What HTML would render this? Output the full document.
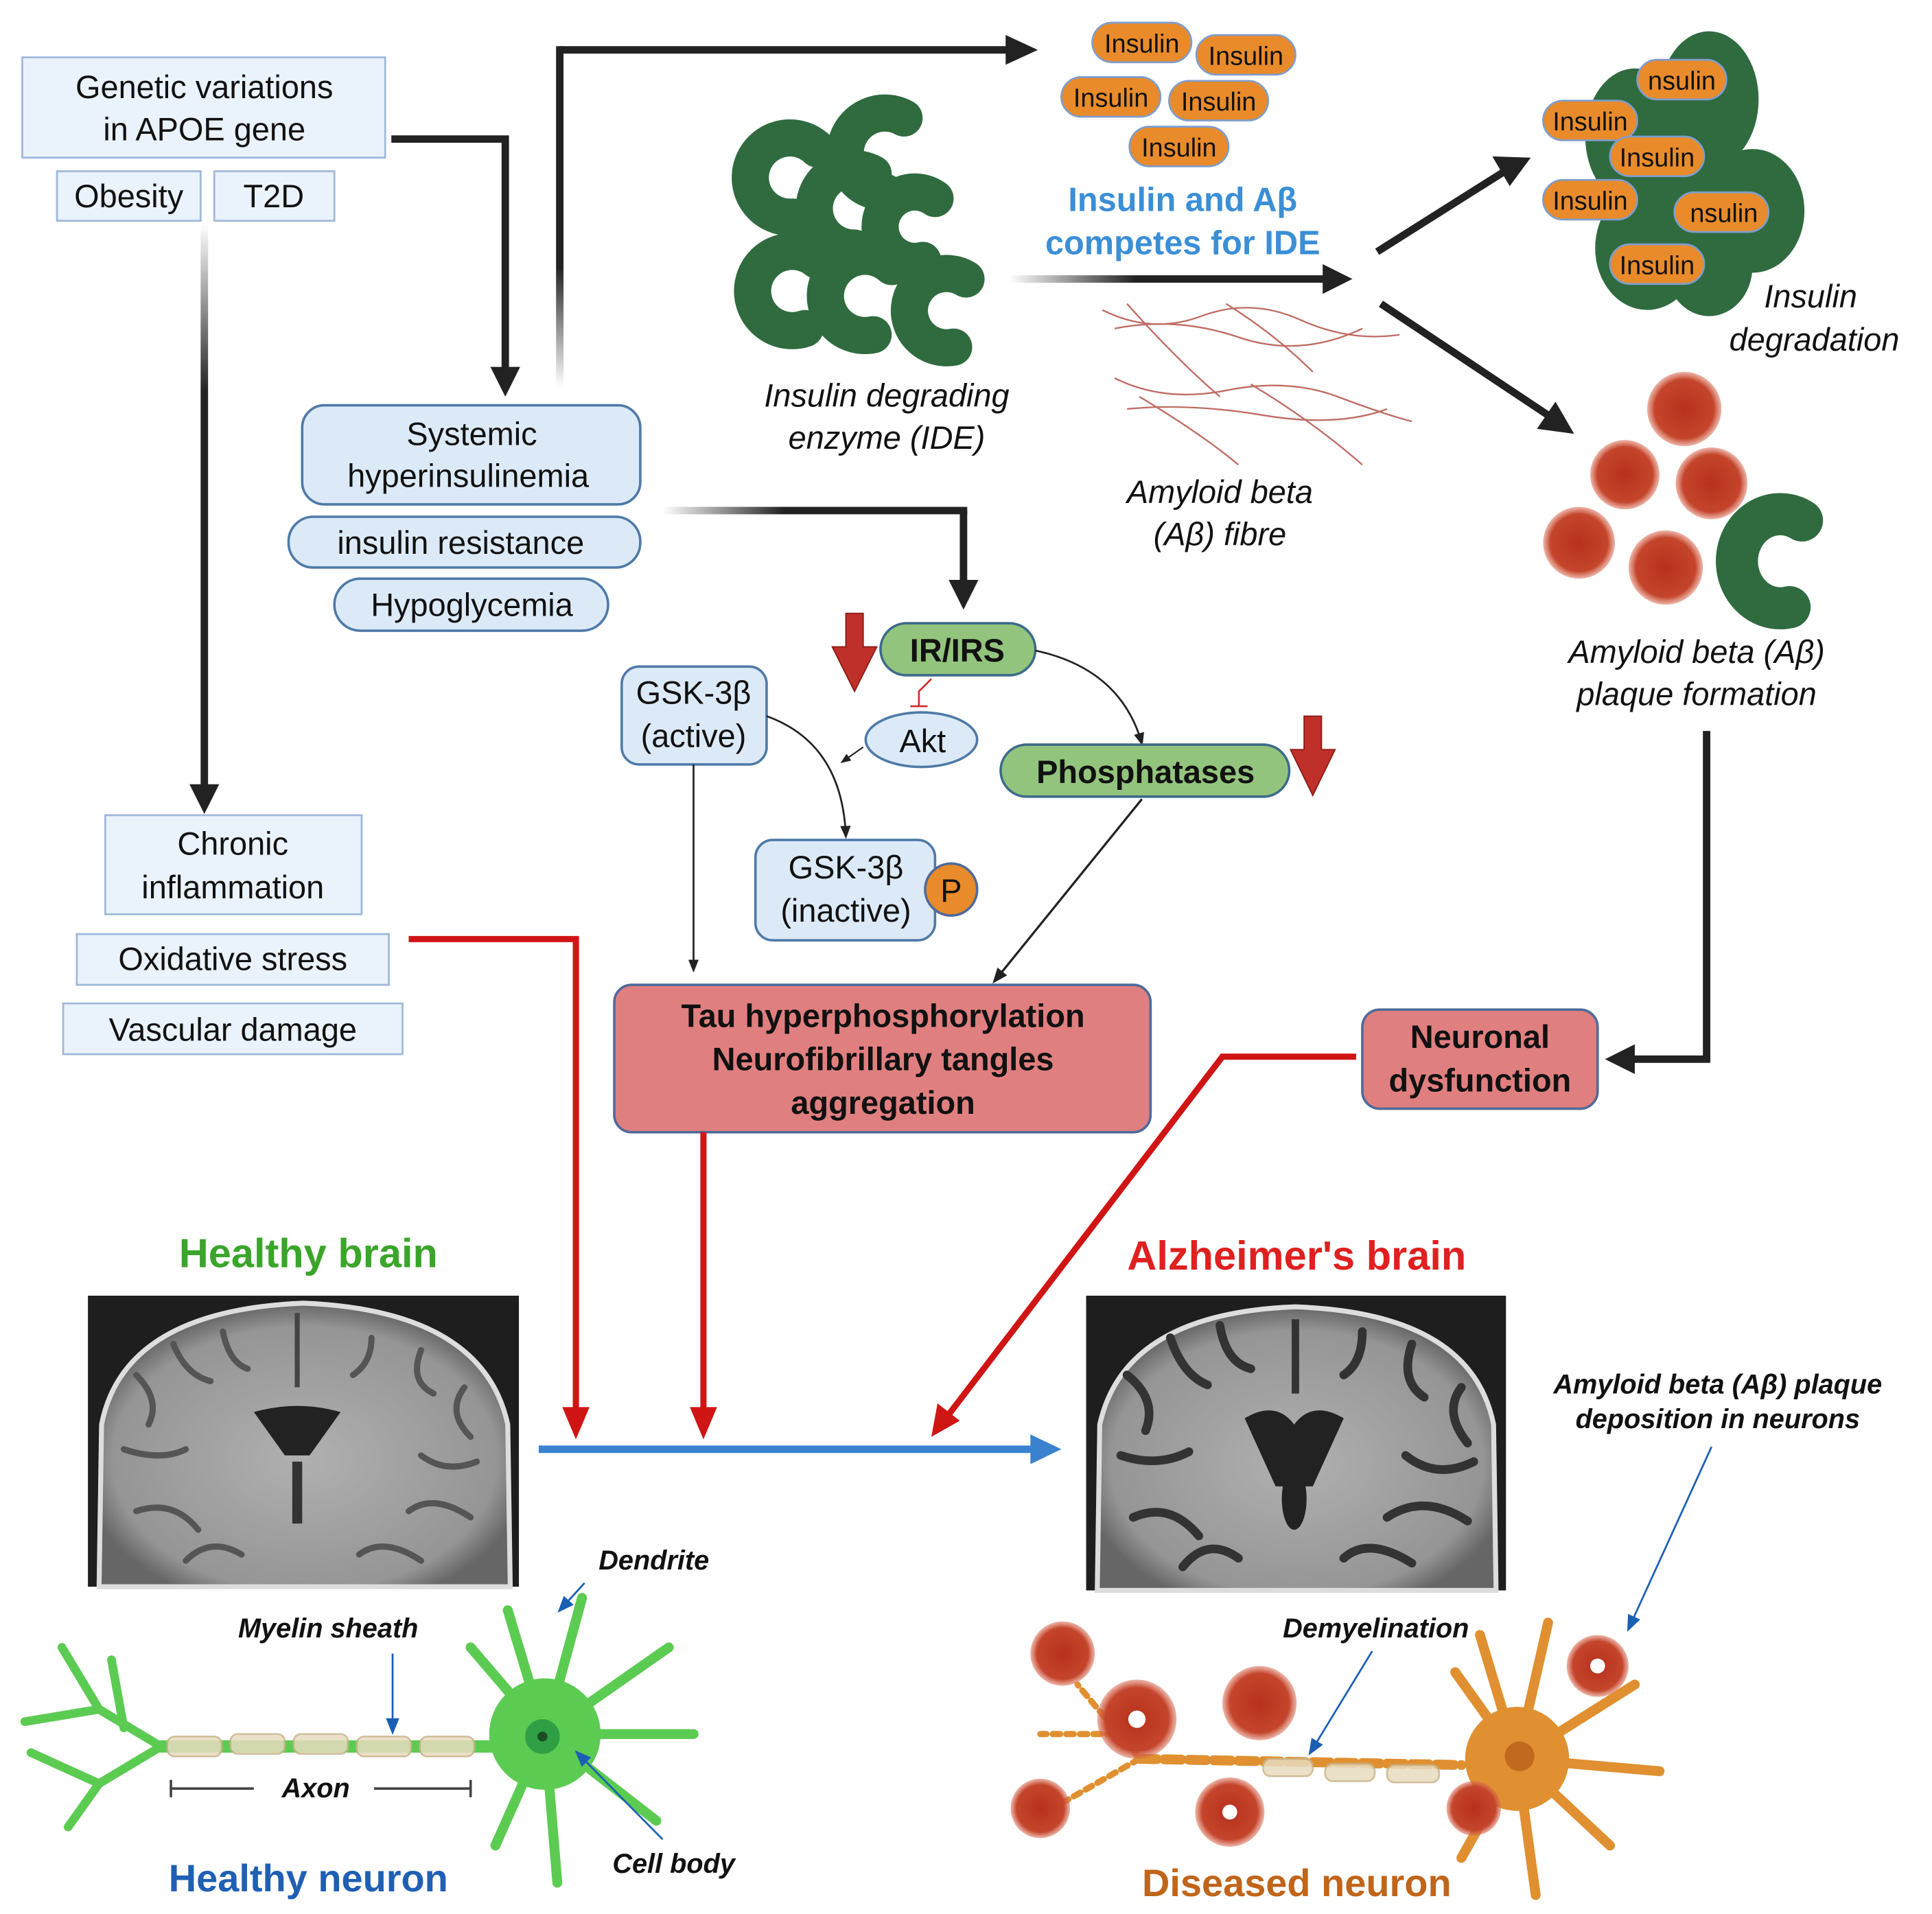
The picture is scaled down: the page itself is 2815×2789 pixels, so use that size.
<!DOCTYPE html>
<html><head><meta charset="utf-8"><style>
html,body{margin:0;padding:0;background:#fff}
svg{display:block}
text{font-family:"Liberation Sans",sans-serif}
</style></head><body>
<svg width="2815" height="2789" viewBox="0 0 1560 1545" xmlns="http://www.w3.org/2000/svg">
<defs>
<marker id="as" viewBox="0 0 10 10" refX="8" refY="5" markerWidth="7" markerHeight="7" orient="auto"><path d="M0,1 L10,5 L0,9 Z" fill="#222"/></marker>
<marker id="asb" viewBox="0 0 10 10" refX="8" refY="5" markerWidth="9" markerHeight="9" orient="auto"><path d="M0,1 L10,5 L0,9 Z" fill="#1a5fb4"/></marker>
<linearGradient id="gv" x1="0" y1="0" x2="0" y2="1"><stop offset="0" stop-color="#222" stop-opacity="0"/><stop offset="0.3" stop-color="#222"/></linearGradient>
<linearGradient id="gv2" x1="0" y1="1" x2="0" y2="0"><stop offset="0" stop-color="#222" stop-opacity="0"/><stop offset="0.35" stop-color="#222"/></linearGradient>
<linearGradient id="gh" x1="0" y1="0" x2="1" y2="0"><stop offset="0" stop-color="#222" stop-opacity="0"/><stop offset="0.4" stop-color="#222"/></linearGradient>
<radialGradient id="pl"><stop offset="0" stop-color="#b8301c"/><stop offset="0.8" stop-color="#c4452c"/><stop offset="1" stop-color="#d86a50" stop-opacity="0.5"/></radialGradient>
<radialGradient id="mri" cx="0.5" cy="0.55" r="0.55"><stop offset="0" stop-color="#b0b0b0"/><stop offset="0.85" stop-color="#959595"/><stop offset="1" stop-color="#666"/></radialGradient>
</defs>

<rect x="18" y="46" width="293" height="81" fill="#eaf2fb" stroke="#9db8d9" stroke-width="1.5"/>
<text x="165" y="79" font-size="26" text-anchor="middle" fill="#111">Genetic variations</text>
<text x="165" y="113" font-size="26" text-anchor="middle" fill="#111">in APOE gene</text>
<rect x="46" y="138" width="116" height="40" fill="#eaf2fb" stroke="#9db8d9" stroke-width="1.5"/>
<text x="104" y="167" font-size="26" text-anchor="middle" fill="#111">Obesity</text>
<rect x="173" y="138" width="97" height="40" fill="#eaf2fb" stroke="#9db8d9" stroke-width="1.5"/>
<text x="221" y="167" font-size="26" text-anchor="middle" fill="#111">T2D</text>

<polyline points="316,112 408,112 408,300" fill="none" stroke="#222" stroke-width="6"/>
<path d="M396,296 L420,296 L408,320 Z" fill="#222"/>
<rect x="162" y="180" width="6" height="455" fill="url(#gv)"/>
<path d="M153,633 L177,633 L165,657 Z" fill="#222"/>
<rect x="449" y="37" width="6" height="275" fill="url(#gv2)"/>
<line x1="452" y1="40" x2="815" y2="40" stroke="#222" stroke-width="6"/>
<path d="M812,28 L838,40 L812,52 Z" fill="#222"/>
<rect x="535" y="409" width="246" height="6" fill="url(#gh)"/>
<line x1="778" y1="412" x2="778" y2="470" stroke="#222" stroke-width="6"/>
<path d="M766,468 L790,468 L778,492 Z" fill="#222"/>

<rect x="244" y="327" width="273" height="80" rx="18" fill="#dceaf8" stroke="#4f7aa8" stroke-width="2"/>
<text x="381" y="359" font-size="26" text-anchor="middle" fill="#111">Systemic</text>
<text x="378" y="393" font-size="26" text-anchor="middle" fill="#111">hyperinsulinemia</text>
<rect x="233" y="417" width="284" height="41" rx="20" fill="#dceaf8" stroke="#4f7aa8" stroke-width="2"/>
<text x="372" y="447" font-size="26" text-anchor="middle" fill="#111">insulin resistance</text>
<rect x="270" y="467" width="221" height="42" rx="21" fill="#dceaf8" stroke="#4f7aa8" stroke-width="2"/>
<text x="381" y="497" font-size="26" text-anchor="middle" fill="#111">Hypoglycemia</text>

<path d="M683,495 L697,495 L697,522 L708,522 L690,558 L672,522 L683,522 Z" fill="#c0302a" stroke="#8a1a15" stroke-width="1"/>
<rect x="711" y="503" width="125" height="42" rx="21" fill="#93c47d" stroke="#3d6a8a" stroke-width="2"/>
<text x="773" y="534" font-size="26" font-weight="bold" text-anchor="middle" fill="#111">IR/IRS</text>
<path d="M752,548 L742,558 L742,570" fill="none" stroke="#d03030" stroke-width="1.5"/>
<line x1="735" y1="570" x2="749" y2="570" stroke="#d03030" stroke-width="1.5"/>
<ellipse cx="744" cy="597" rx="45" ry="22" fill="#dceaf8" stroke="#4f7aa8" stroke-width="2"/>
<text x="745" y="607" font-size="26" text-anchor="middle" fill="#111">Akt</text>
<line x1="697" y1="603" x2="680" y2="615" stroke="#222" stroke-width="1.2" marker-end="url(#as)"/>
<path d="M836,525 Q905,540 922,600" fill="none" stroke="#222" stroke-width="1.5" marker-end="url(#as)"/>

<rect x="502" y="538" width="117" height="79" rx="14" fill="#dceaf8" stroke="#4f7aa8" stroke-width="2"/>
<text x="560" y="568" font-size="26" text-anchor="middle" fill="#111">GSK-3β</text>
<text x="560" y="603" font-size="26" text-anchor="middle" fill="#111">(active)</text>
<path d="M619,578 Q680,600 683,675" fill="none" stroke="#222" stroke-width="1.5" marker-end="url(#as)"/>
<line x1="560" y1="617" x2="560" y2="783" stroke="#222" stroke-width="1.5" marker-end="url(#as)"/>
<rect x="610" y="678" width="145" height="81" rx="14" fill="#dceaf8" stroke="#4f7aa8" stroke-width="2"/>
<text x="683" y="709" font-size="26" text-anchor="middle" fill="#111">GSK-3β</text>
<text x="683" y="744" font-size="26" text-anchor="middle" fill="#111">(inactive)</text>
<circle cx="768" cy="718" r="21" fill="#e98b2a" stroke="#4f6a9a" stroke-width="2"/>
<text x="768" y="728" font-size="26" text-anchor="middle" fill="#111">P</text>

<rect x="808" y="601" width="233" height="42" rx="21" fill="#93c47d" stroke="#3d6a8a" stroke-width="2"/>
<text x="925" y="632" font-size="26" font-weight="bold" text-anchor="middle" fill="#111">Phosphatases</text>
<path d="M1053,578 L1067,578 L1067,605 L1078,605 L1060,642 L1042,605 L1053,605 Z" fill="#c0302a" stroke="#8a1a15" stroke-width="1"/>
<line x1="922" y1="645" x2="803" y2="792" stroke="#222" stroke-width="1.8" marker-end="url(#as)"/>

<rect x="496" y="795" width="433" height="119" rx="14" fill="#e07f7f" stroke="#4f6a9a" stroke-width="2"/>
<text x="713" y="829" font-size="26" font-weight="bold" text-anchor="middle" fill="#111">Tau hyperphosphorylation</text>
<text x="713" y="864" font-size="26" font-weight="bold" text-anchor="middle" fill="#111">Neurofibrillary tangles</text>
<text x="713" y="899" font-size="26" font-weight="bold" text-anchor="middle" fill="#111">aggregation</text>

<rect x="1100" y="815" width="190" height="80" rx="14" fill="#e07f7f" stroke="#4f6a9a" stroke-width="2"/>
<text x="1195" y="846" font-size="26" font-weight="bold" text-anchor="middle" fill="#111">Neuronal</text>
<text x="1195" y="881" font-size="26" font-weight="bold" text-anchor="middle" fill="#111">dysfunction</text>
<polyline points="1378,590 1378,855 1318,855" fill="none" stroke="#222" stroke-width="6"/>
<path d="M1320,843 L1296,855 L1320,867 Z" fill="#222"/>

<rect x="85" y="658" width="207" height="80" fill="#eaf2fb" stroke="#9db8d9" stroke-width="1.5"/>
<text x="188" y="690" font-size="26" text-anchor="middle" fill="#111">Chronic</text>
<text x="188" y="725" font-size="26" text-anchor="middle" fill="#111">inflammation</text>
<rect x="62" y="754" width="252" height="41" fill="#eaf2fb" stroke="#9db8d9" stroke-width="1.5"/>
<text x="188" y="783" font-size="26" text-anchor="middle" fill="#111">Oxidative stress</text>
<rect x="51" y="810" width="274" height="41" fill="#eaf2fb" stroke="#9db8d9" stroke-width="1.5"/>
<text x="188" y="840" font-size="26" text-anchor="middle" fill="#111">Vascular damage</text>

<polyline points="330,758 465,758 465,1140" fill="none" stroke="#d01515" stroke-width="5"/>
<path d="M454,1136 L476,1136 L465,1162 Z" fill="#d01515"/>
<line x1="568" y1="914" x2="568" y2="1140" stroke="#d01515" stroke-width="5"/>
<path d="M557,1136 L579,1136 L568,1162 Z" fill="#d01515"/>
<polyline points="1095,853 987,853 766,1142" fill="none" stroke="#d01515" stroke-width="5"/>
<path d="M757,1133 L775,1147 L752,1160 Z" fill="#d01515"/>

<line x1="435" y1="1170" x2="835" y2="1170" stroke="#3a82d0" stroke-width="6"/>
<path d="M832,1158 L857,1170 L832,1182 Z" fill="#3a82d0"/>

<g fill="none" stroke="#2f6b3f" stroke-width="30" stroke-linecap="round">
<path d="M660,120 A32,32 0 1,0 640,175"/>
<path d="M730,95 A32,32 0 1,0 715,155"/>
<path d="M705,140 A32,32 0 1,0 690,200"/>
<path d="M660,210 A32,32 0 1,0 650,265"/>
<path d="M720,215 A32,32 0 1,0 705,270"/>
<path d="M780,225 A30,30 0 1,0 770,280"/>
<path d="M755,160 A28,28 0 1,0 745,210"/>
</g>
<text x="716" y="328" font-size="26" font-style="italic" text-anchor="middle" fill="#111">Insulin degrading</text>
<text x="716" y="362" font-size="26" font-style="italic" text-anchor="middle" fill="#111">enzyme (IDE)</text>

<g font-size="21" text-anchor="middle" fill="#111">
<rect x="882" y="18" width="80" height="32" rx="16" fill="#e98b2a" stroke="#7f9dcc" stroke-width="1.5"/><text x="922" y="42">Insulin</text>
<rect x="966" y="28" width="80" height="32" rx="16" fill="#e98b2a" stroke="#7f9dcc" stroke-width="1.5"/><text x="1006" y="52">Insulin</text>
<rect x="857" y="62" width="80" height="32" rx="16" fill="#e98b2a" stroke="#7f9dcc" stroke-width="1.5"/><text x="897" y="86">Insulin</text>
<rect x="944" y="65" width="80" height="32" rx="16" fill="#e98b2a" stroke="#7f9dcc" stroke-width="1.5"/><text x="984" y="89">Insulin</text>
<rect x="912" y="102" width="80" height="32" rx="16" fill="#e98b2a" stroke="#7f9dcc" stroke-width="1.5"/><text x="952" y="126">Insulin</text>
</g>
<text x="955" y="170" font-size="27" font-weight="bold" text-anchor="middle" fill="#3a8fd6">Insulin and Aβ</text>
<text x="955" y="205" font-size="27" font-weight="bold" text-anchor="middle" fill="#3a8fd6">competes for IDE</text>
<rect x="815" y="222" width="255" height="6" fill="url(#gh)"/>
<path d="M1068,213 L1092,225 L1068,237 Z" fill="#222"/>
<line x1="1112" y1="203" x2="1215" y2="138" stroke="#222" stroke-width="6"/>
<path d="M1205,126 L1236,127 L1219,150 Z" fill="#222"/>
<line x1="1115" y1="245" x2="1250" y2="335" stroke="#222" stroke-width="6"/>
<path d="M1241,346 L1271,350 L1256,324 Z" fill="#222"/>

<g fill="none" stroke="#b0483c" stroke-width="1.3" opacity="0.8">
<path d="M890,250 Q930,270 970,255 T1050,258 T1130,270"/>
<path d="M900,265 Q950,255 1000,272 T1100,265"/>
<path d="M910,245 Q950,290 985,320"/>
<path d="M990,245 Q1030,270 1060,300"/>
<path d="M900,305 Q940,325 990,315 T1080,320 T1140,340"/>
<path d="M920,320 Q970,350 1000,375"/>
<path d="M1010,310 Q1060,340 1100,375"/>
<path d="M910,330 Q960,325 1020,335 T1120,330"/>
</g>
<text x="985" y="406" font-size="26" font-style="italic" text-anchor="middle" fill="#111">Amyloid beta</text>
<text x="985" y="440" font-size="26" font-style="italic" text-anchor="middle" fill="#111">(Aβ) fibre</text>

<g fill="#2f6b3f">
<ellipse cx="1380" cy="80" rx="40" ry="55"/>
<ellipse cx="1320" cy="110" rx="40" ry="55"/>
<ellipse cx="1360" cy="150" rx="45" ry="55"/>
<ellipse cx="1415" cy="170" rx="42" ry="50"/>
<ellipse cx="1330" cy="200" rx="42" ry="50"/>
<ellipse cx="1380" cy="215" rx="35" ry="40"/>
</g>
<g font-size="21" text-anchor="middle" fill="#111">
<rect x="1322" y="48" width="72" height="32" rx="16" fill="#e98b2a" stroke="#7f9dcc" stroke-width="1.5"/><text x="1358" y="72">nsulin</text>
<rect x="1246" y="81" width="76" height="32" rx="16" fill="#e98b2a" stroke="#7f9dcc" stroke-width="1.5"/><text x="1284" y="105">Insulin</text>
<rect x="1300" y="110" width="76" height="32" rx="16" fill="#e98b2a" stroke="#7f9dcc" stroke-width="1.5"/><text x="1338" y="134">Insulin</text>
<rect x="1246" y="145" width="76" height="32" rx="16" fill="#e98b2a" stroke="#7f9dcc" stroke-width="1.5"/><text x="1284" y="169">Insulin</text>
<rect x="1352" y="155" width="76" height="32" rx="16" fill="#e98b2a" stroke="#7f9dcc" stroke-width="1.5"/><text x="1392" y="179">nsulin</text>
<rect x="1300" y="197" width="76" height="32" rx="16" fill="#e98b2a" stroke="#7f9dcc" stroke-width="1.5"/><text x="1338" y="221">Insulin</text>
</g>
<text x="1462" y="248" font-size="26" font-style="italic" text-anchor="middle" fill="#111">Insulin</text>
<text x="1465" y="283" font-size="26" font-style="italic" text-anchor="middle" fill="#111">degradation</text>

<g fill="url(#pl)">
<circle cx="1360" cy="330" r="30"/>
<circle cx="1312" cy="383" r="28"/>
<circle cx="1382" cy="390" r="29"/>
<circle cx="1275" cy="438" r="29"/>
<circle cx="1345" cy="458" r="30"/>
</g>
<path d="M1455,420 A35,38 0 1,0 1445,490" fill="none" stroke="#2f6b3f" stroke-width="34" stroke-linecap="round"/>
<text x="1370" y="535" font-size="26" font-style="italic" text-anchor="middle" fill="#111">Amyloid beta (Aβ)</text>
<text x="1370" y="569" font-size="26" font-style="italic" text-anchor="middle" fill="#111">plaque formation</text>

<text x="249" y="1023" font-size="33" font-weight="bold" text-anchor="middle" fill="#3aa52a">Healthy brain</text>
<text x="1047" y="1025" font-size="33" font-weight="bold" text-anchor="middle" fill="#e02020">Alzheimer's brain</text>
<rect x="71" y="1046" width="348" height="235" fill="#1e1e1e"/>
<path d="M80,1281 L82,1150 Q100,1058 245,1052 Q390,1058 410,1150 L412,1281 Z" fill="url(#mri)" stroke="#ddd" stroke-width="4"/>
<g fill="none" stroke="#555" stroke-width="5" stroke-linecap="round">
<path d="M110,1110 Q130,1130 120,1150 M140,1085 Q150,1110 170,1115 M180,1075 Q185,1100 200,1105 M300,1080 Q300,1100 285,1110 M340,1090 Q330,1115 350,1125 M375,1120 Q360,1140 380,1160 M100,1170 Q130,1180 150,1170 M340,1175 Q360,1190 385,1180 M110,1220 Q140,1210 160,1235 M330,1220 Q350,1205 380,1225 M150,1260 Q170,1240 195,1255 M290,1255 Q310,1240 340,1260"/>
</g>
<path d="M205,1140 Q240,1130 275,1140 L250,1175 L230,1175 Z" fill="#222"/>
<rect x="236" y="1180" width="8" height="50" fill="#333"/>
<path d="M240,1060 L240,1120" stroke="#444" stroke-width="4"/>
<rect x="877" y="1046" width="339" height="238" fill="#1e1e1e"/>
<path d="M886,1284 L888,1150 Q908,1060 1046,1055 Q1188,1060 1206,1150 L1208,1284 Z" fill="url(#mri)" stroke="#ddd" stroke-width="4"/>
<g fill="none" stroke="#333" stroke-width="7" stroke-linecap="round">
<path d="M910,1110 Q935,1130 925,1155 M945,1080 Q955,1110 975,1118 M985,1070 Q990,1100 1010,1105 M1100,1075 Q1100,1100 1085,1110 M1140,1085 Q1130,1115 1150,1128 M1180,1120 Q1165,1140 1185,1165 M905,1175 Q935,1185 960,1172 M1135,1175 Q1160,1195 1190,1180 M915,1225 Q945,1212 968,1240 M1120,1225 Q1150,1205 1185,1228 M955,1265 Q975,1240 1000,1258 M1085,1258 Q1105,1240 1140,1262"/>
</g>
<path d="M1005,1145 Q1030,1130 1045,1150 Q1060,1130 1085,1145 L1060,1200 L1030,1200 Z" fill="#222"/>
<ellipse cx="1045" cy="1210" rx="10" ry="25" fill="#222"/>
<path d="M1046,1065 L1046,1125" stroke="#333" stroke-width="6"/>

<g stroke="#5ccb52" fill="none" stroke-linecap="round">
<path d="M130,1410 L400,1410" stroke-width="10"/>
<path d="M130,1410 L80,1380 L50,1330 M80,1380 L20,1390 M130,1410 L80,1440 L55,1475 M80,1440 L25,1415 M100,1395 L90,1340" stroke-width="7"/>
<path d="M440,1400 L410,1300 M440,1400 L470,1290 M440,1400 L540,1330 M440,1400 L560,1400 M440,1400 L530,1470 M440,1400 L450,1520 M440,1400 L400,1490 M440,1400 L380,1330" stroke-width="8"/>
</g>
<circle cx="440" cy="1400" r="45" fill="#5ccb52"/>
<circle cx="438" cy="1402" r="14" fill="#2f9e44"/><circle cx="438" cy="1402" r="4" fill="#1a4d25"/>
<g fill="#e8dcc0" stroke="#c9b48a" stroke-width="1.5" opacity="0.85">
<rect x="135" y="1402" width="44" height="16" rx="6"/><rect x="186" y="1400" width="44" height="16" rx="6"/><rect x="237" y="1400" width="44" height="16" rx="6"/><rect x="288" y="1402" width="44" height="16" rx="6"/><rect x="339" y="1402" width="44" height="16" rx="6"/>
</g>
<text x="265" y="1322" font-size="22" font-weight="bold" font-style="italic" text-anchor="middle" fill="#111">Myelin sheath</text>
<line x1="317" y1="1335" x2="317" y2="1398" stroke="#1a5fb4" stroke-width="1.5" marker-end="url(#asb)"/>
<text x="528" y="1267" font-size="22" font-weight="bold" font-style="italic" text-anchor="middle" fill="#111">Dendrite</text>
<line x1="472" y1="1278" x2="452" y2="1300" stroke="#1a5fb4" stroke-width="1.5" marker-end="url(#asb)"/>
<text x="255" y="1451" font-size="22" font-weight="bold" font-style="italic" text-anchor="middle" fill="#111">Axon</text>
<path d="M138,1437 V1451 M138,1444 H205 M302,1444 H380 M380,1437 V1451" stroke="#444" stroke-width="2" fill="none"/>
<text x="544" y="1512" font-size="22" font-weight="bold" font-style="italic" text-anchor="middle" fill="#111">Cell body</text>
<line x1="535" y1="1485" x2="466" y2="1415" stroke="#1a5fb4" stroke-width="1.5" marker-end="url(#asb)"/>
<text x="249" y="1527" font-size="31" font-weight="bold" text-anchor="middle" fill="#1f5fb4">Healthy neuron</text>

<g stroke="#e09030" fill="none" stroke-linecap="round">
<path d="M920,1420 L1180,1425" stroke-width="8" stroke-dasharray="14 6"/>
<path d="M920,1420 L870,1360 M920,1420 L850,1460 M900,1400 L840,1400" stroke-width="5" stroke-dasharray="6 5"/>
<path d="M1225,1420 L1195,1320 M1225,1420 L1250,1310 M1225,1420 L1320,1360 M1225,1420 L1340,1430 M1225,1420 L1300,1490 M1225,1420 L1240,1530 M1225,1420 L1180,1500 M1225,1420 L1175,1350" stroke-width="8"/>
</g>
<circle cx="1225" cy="1420" r="42" fill="#e09030"/>
<circle cx="1227" cy="1418" r="12" fill="#c06a20"/>
<g fill="#e8dcc0" stroke="#c9b48a" stroke-width="1.5" opacity="0.85">
<rect x="1020" y="1420" width="40" height="14" rx="6"/><rect x="1070" y="1424" width="40" height="14" rx="6"/><rect x="1120" y="1425" width="42" height="14" rx="6"/>
</g>
<g fill="url(#pl)">
<circle cx="858" cy="1335" r="26"/><circle cx="918" cy="1388" r="32"/><circle cx="1017" cy="1375" r="30"/><circle cx="840" cy="1460" r="24"/><circle cx="993" cy="1463" r="28"/><circle cx="1290" cy="1345" r="25"/><circle cx="1190" cy="1460" r="22"/>
</g>
<g fill="#fff"><circle cx="918" cy="1388" r="7"/><circle cx="993" cy="1463" r="6"/><circle cx="1290" cy="1345" r="6"/></g>
<text x="1111" y="1322" font-size="22" font-weight="bold" font-style="italic" text-anchor="middle" fill="#111">Demyelination</text>
<line x1="1108" y1="1333" x2="1058" y2="1415" stroke="#1a5fb4" stroke-width="1.5" marker-end="url(#asb)"/>
<text x="1387" y="1125" font-size="22" font-weight="bold" font-style="italic" text-anchor="middle" fill="#111">Amyloid beta (Aβ) plaque</text>
<text x="1387" y="1153" font-size="22" font-weight="bold" font-style="italic" text-anchor="middle" fill="#111">deposition in neurons</text>
<line x1="1382" y1="1168" x2="1315" y2="1315" stroke="#1a5fb4" stroke-width="1.5" marker-end="url(#asb)"/>
<text x="1047" y="1531" font-size="31" font-weight="bold" text-anchor="middle" fill="#c0651a">Diseased neuron</text>
</svg>
</body></html>
